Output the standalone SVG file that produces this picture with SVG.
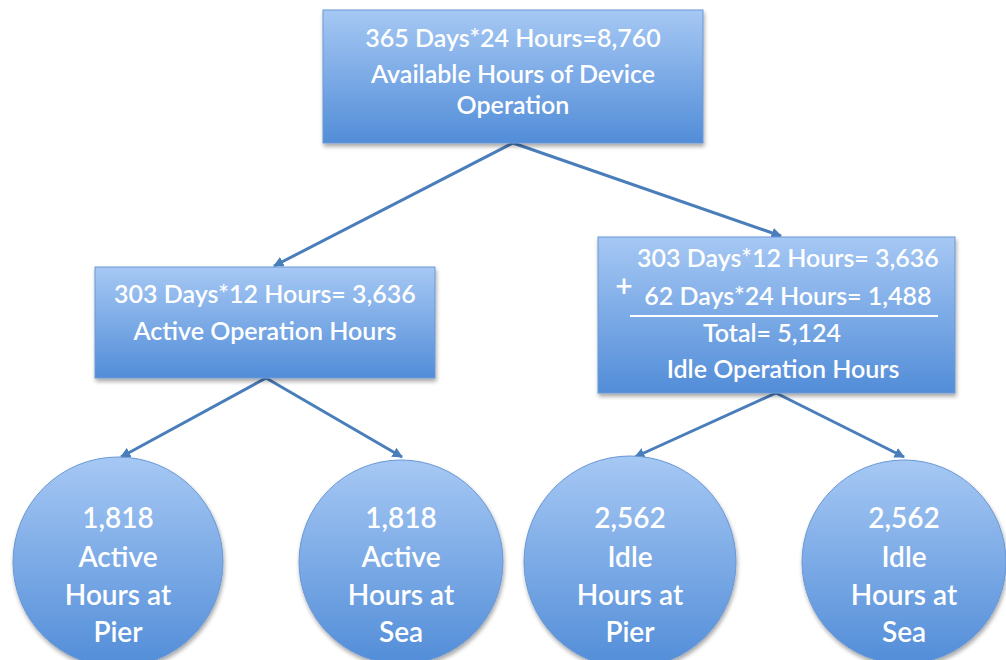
<svg xmlns="http://www.w3.org/2000/svg" width="1006" height="660" viewBox="0 0 1006 660">
<defs>
<linearGradient id="g" x1="0" y1="0" x2="0" y2="1">
<stop offset="0" stop-color="#a6c8f4"/>
<stop offset="1" stop-color="#528dd8"/>
</linearGradient>
<filter id="sh" x="-10%" y="-10%" width="130%" height="130%">
<feGaussianBlur in="SourceAlpha" stdDeviation="2"/>
<feOffset dx="1" dy="3" result="b"/>
<feComponentTransfer><feFuncA type="linear" slope="0.35"/></feComponentTransfer>
<feMerge><feMergeNode/><feMergeNode in="SourceGraphic"/></feMerge>
</filter>
<marker id="ah" viewBox="0 0 10 10" refX="9" refY="5" markerWidth="3.5" markerHeight="3.5" orient="auto" markerUnits="strokeWidth">
<path d="M0,0 L10,5 L0,10 z" fill="#4a7ebb"/>
</marker>
</defs>
<style>
.n{fill:url(#g);stroke:#6a98d4;stroke-width:1;filter:url(#sh)}
.t{fill:#ffffff;font-family:Lato,"Open Sans",sans-serif;font-size:25px;font-weight:600;text-anchor:middle}
.c{font-size:28px}
.e{stroke:#4a7ebb;stroke-width:3;fill:none;marker-end:url(#ah)}
</style>
<rect width="1006" height="660" fill="#ffffff"/>
<g id="connectors">
<line class="e" x1="513" y1="143" x2="274" y2="266"/>
<line class="e" x1="513" y1="143" x2="781" y2="236"/>
<line class="e" x1="266" y1="378" x2="121" y2="457"/>
<line class="e" x1="266" y1="378" x2="402" y2="457"/>
<line class="e" x1="776" y1="393" x2="635" y2="457"/>
<line class="e" x1="776" y1="393" x2="904" y2="457"/>
</g>
<g id="top">
<rect class="n" x="323" y="10" width="380" height="133"/>
<text class="t" x="513" y="47">365 Days*24 Hours=8,760</text>
<text class="t" x="513" y="83">Available Hours of Device</text>
<text class="t" x="513" y="114">Operation</text>
</g>
<g id="active">
<rect class="n" x="95" y="267" width="340" height="111"/>
<text class="t" x="265" y="303">303 Days*12 Hours= 3,636</text>
<text class="t" x="265" y="340">Active Operation Hours</text>
</g>
<g id="idle">
<rect class="n" x="598" y="237" width="357" height="156"/>
<text class="t" x="788" y="267">303 Days*12 Hours= 3,636</text>
<text class="t" x="624" y="297" style="font-size:30px">+</text>
<text class="t" x="788" y="305">62 Days*24 Hours= 1,488</text>
<line x1="630" y1="316" x2="938" y2="316" stroke="#ffffff" stroke-width="2"/>
<text class="t" x="772" y="342">Total= 5,124</text>
<text class="t" x="783" y="378">Idle Operation Hours</text>
</g>
<g id="c1">
<circle class="n" cx="118" cy="562" r="105"/>
<text class="t c" x="118" y="528">1,818</text>
<text class="t c" x="118" y="567">Active</text>
<text class="t c" x="118" y="605">Hours at</text>
<text class="t c" x="118" y="642">Pier</text>
</g>
<g id="c2">
<circle class="n" cx="401" cy="562" r="102"/>
<text class="t c" x="401" y="528">1,818</text>
<text class="t c" x="401" y="567">Active</text>
<text class="t c" x="401" y="605">Hours at</text>
<text class="t c" x="401" y="642">Sea</text>
</g>
<g id="c3">
<circle class="n" cx="630" cy="562" r="106"/>
<text class="t c" x="630" y="528">2,562</text>
<text class="t c" x="630" y="567">Idle</text>
<text class="t c" x="630" y="605">Hours at</text>
<text class="t c" x="630" y="642">Pier</text>
</g>
<g id="c4">
<circle class="n" cx="904" cy="562" r="102"/>
<text class="t c" x="904" y="528">2,562</text>
<text class="t c" x="904" y="567">Idle</text>
<text class="t c" x="904" y="605">Hours at</text>
<text class="t c" x="904" y="642">Sea</text>
</g>
</svg>
